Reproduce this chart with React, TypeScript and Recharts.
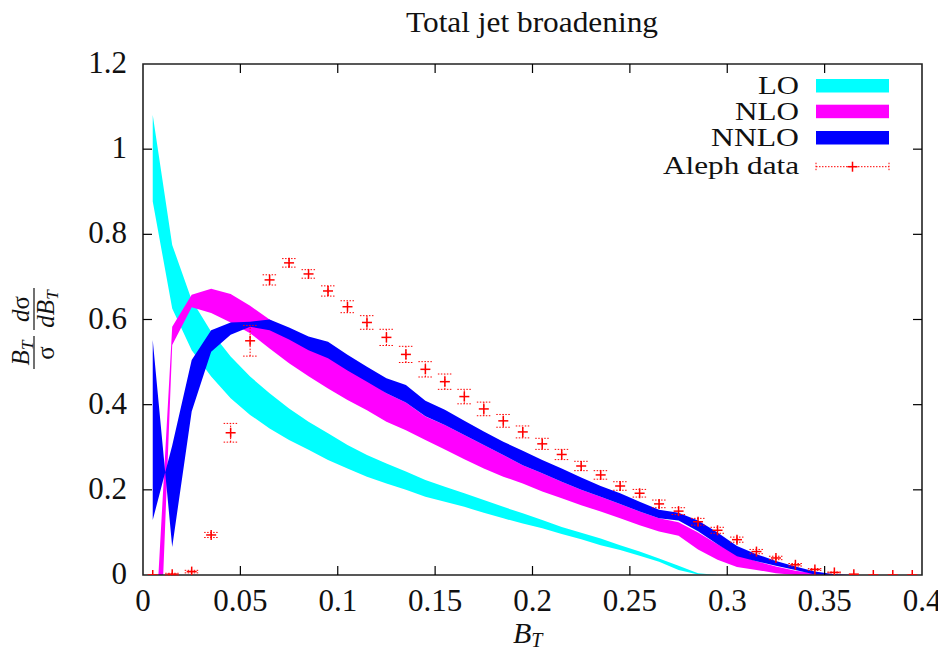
import { ComposedChart, Area, Scatter, ErrorBar, XAxis, YAxis, ReferenceArea } from 'recharts';

// bin centres of B_T
const binCenters = [
  0.005, 0.015, 0.025, 0.035, 0.045, 0.055, 0.065, 0.075, 0.085, 0.095,
  0.105, 0.115, 0.125, 0.135, 0.145, 0.155, 0.165, 0.175, 0.185, 0.195,
  0.205, 0.215, 0.225, 0.235, 0.245, 0.255, 0.265, 0.275, 0.285, 0.295,
  0.305, 0.315, 0.325, 0.335, 0.345, 0.355, 0.365, 0.375, 0.385, 0.395,
];

const loLow = [
  0.877, 0.626, 0.528, 0.466, 0.415, 0.376, 0.344, 0.317, 0.294, 0.27,
  0.25, 0.231, 0.215, 0.2, 0.184, 0.172, 0.16, 0.146, 0.133, 0.121,
  0.11, 0.096, 0.084, 0.07, 0.059, 0.045, 0.031, 0.012, 0.001, 0,
  0, 0, 0, 0, 0, 0, 0, 0, 0, 0,
];
const loHigh = [
  1.08, 0.775, 0.646, 0.571, 0.513, 0.466, 0.427, 0.391, 0.36, 0.333,
  0.305, 0.282, 0.262, 0.243, 0.223, 0.207, 0.192, 0.176, 0.16, 0.145,
  0.129, 0.113, 0.099, 0.086, 0.07, 0.055, 0.039, 0.022, 0.004, 0,
  0, 0, 0, 0, 0, 0, 0, 0, 0, 0,
];

const nloLow = [
  -0.63, 0.54, 0.629, 0.615, 0.593, 0.568, 0.532, 0.497, 0.467, 0.438,
  0.411, 0.387, 0.36, 0.34, 0.317, 0.295, 0.272, 0.25, 0.231, 0.215,
  0.196, 0.18, 0.164, 0.149, 0.133, 0.117, 0.102, 0.092, 0.06, 0.036,
  0.019, 0.012, 0.004, 0, 0, 0, 0, 0, 0, 0,
];
const nloHigh = [
  -0.24, 0.583, 0.658, 0.672, 0.66, 0.632, 0.6, 0.571, 0.542, 0.513,
  0.485, 0.458, 0.427, 0.405, 0.372, 0.352, 0.329, 0.305, 0.282, 0.258,
  0.239, 0.219, 0.2, 0.184, 0.167, 0.149, 0.133, 0.124, 0.1, 0.072,
  0.048, 0.032, 0.02, 0.01, 0.004, 0.001, 0, 0, 0, 0,
];

const nnloLow = [
  0.552, 0.066, 0.384, 0.524, 0.564, 0.583, 0.575, 0.553, 0.528, 0.509,
  0.48, 0.454, 0.427, 0.405, 0.373, 0.352, 0.329, 0.305, 0.282, 0.258,
  0.239, 0.219, 0.2, 0.184, 0.167, 0.149, 0.133, 0.128, 0.103, 0.072,
  0.044, 0.032, 0.022, 0.012, 0.001, 0, 0, 0, 0, 0,
];
const nnloHigh = [
  0.129, 0.304, 0.505, 0.575, 0.593, 0.595, 0.6, 0.581, 0.56, 0.548,
  0.517, 0.489, 0.462, 0.446, 0.409, 0.388, 0.362, 0.337, 0.313, 0.292,
  0.27, 0.25, 0.229, 0.209, 0.192, 0.172, 0.153, 0.146, 0.128, 0.1,
  0.068, 0.049, 0.033, 0.02, 0.008, 0.002, 0, 0, 0, 0,
];

// Aleph measurement and its error
const alephValues = [
  0, 0.002, 0.008, 0.094, 0.334, 0.55, 0.693, 0.733, 0.707, 0.667,
  0.63, 0.593, 0.558, 0.518, 0.483, 0.454, 0.419, 0.39, 0.362, 0.336,
  0.308, 0.283, 0.256, 0.235, 0.209, 0.192, 0.167, 0.15, 0.125, 0.105,
  0.083, 0.055, 0.04, 0.024, 0.013, 0.006, 0.002, 0, 0, 0,
];
const alephErrors = [
  0, 0.002, 0.003, 0.006, 0.022, 0.036, 0.012, 0.01, 0.01, 0.012,
  0.014, 0.016, 0.019, 0.019, 0.018, 0.018, 0.017, 0.016, 0.015, 0.014,
  0.013, 0.012, 0.011, 0.01, 0.01, 0.009, 0.009, 0.008, 0.008, 0.007,
  0.006, 0.005, 0.004, 0.003, 0.002, 0.001, 0, 0, 0, 0,
];

const xTicks = [0, 0.05, 0.1, 0.15, 0.2, 0.25, 0.3, 0.35, 0.4];
const xTickLabels = ['0', '0.05', '0.1', '0.15', '0.2', '0.25', '0.3', '0.35', '0.4'];
const yTicks = [0, 0.2, 0.4, 0.6, 0.8, 1, 1.2];
const yTickLabels = ['0', '0.2', '0.4', '0.6', '0.8', '1', '1.2'];

const seriesNames = ['LO', 'NLO', 'NNLO', 'Aleph data'];
const bandColors = ['#00ffff', '#ff00ff', '#0000ff'];

const rows = binCenters.map((x, i) => ({
  x,
  lo: [loLow[i], loHigh[i]],
  nlo: [nloLow[i], nloHigh[i]],
  nnlo: [nnloLow[i], nnloHigh[i]],
  aleph: alephValues[i],
  err: alephErrors[i],
}));

const W = 938;
const H = 640;
const PLOT_LEFT = 135;
const PLOT_TOP = 56;
const PLOT_RIGHT = 914;
const PLOT_BOTTOM = 567;
const FONT = 'Liberation Serif, serif';

const XTick = (props: any) => {
  const { x, payload } = props;
  const i = xTicks.indexOf(payload.value);
  const edge = i === 0 || i === xTicks.length - 1;
  return (
    <g>
      {!edge && <line x1={x} y1={PLOT_BOTTOM} x2={x} y2={PLOT_BOTTOM - 9} stroke="#000" strokeWidth={1.2} />}
      {!edge && <line x1={x} y1={PLOT_TOP} x2={x} y2={PLOT_TOP + 9} stroke="#000" strokeWidth={1.2} />}
      <text x={x} y={PLOT_BOTTOM + 36} textAnchor="middle" style={{ fontFamily: FONT }} fontSize={31} fill="#111">
        {xTickLabels[i]}
      </text>
    </g>
  );
};

const YTick = (props: any) => {
  const { y, payload } = props;
  const i = yTicks.indexOf(payload.value);
  const edge = i === 0 || i === yTicks.length - 1;
  return (
    <g>
      {!edge && <line x1={PLOT_LEFT} y1={y} x2={PLOT_LEFT + 9} y2={y} stroke="#000" strokeWidth={1.2} />}
      {!edge && <line x1={PLOT_RIGHT} y1={y} x2={PLOT_RIGHT - 9} y2={y} stroke="#000" strokeWidth={1.2} />}
      <text x={PLOT_LEFT - 16} y={y + 9} textAnchor="end" style={{ fontFamily: FONT }} fontSize={31} fill="#111">
        {yTickLabels[i]}
      </text>
    </g>
  );
};

const Plus = (props: any) => {
  const { cx, cy } = props;
  if (cx == null || cy == null) return null;
  return (
    <g stroke="#ff0000" strokeWidth={1.5}>
      <line x1={cx - 5} y1={cy} x2={cx + 5} y2={cy} />
      <line x1={cx} y1={cy - 5} x2={cx} y2={cy + 5} />
    </g>
  );
};

function Overlay() {
  const rowsY = [86, 111.7, 138, 166];
  return (
    <svg width={W} height={H}
      style={{ position: 'absolute', left: 0, top: 0, pointerEvents: 'none', overflow: 'visible', fontFamily: FONT }}>
      <text x={524} y={24} textAnchor="middle" fontSize={29} fill="#111"
        textLength={252} lengthAdjust="spacingAndGlyphs">
        Total jet broadening
      </text>

      {seriesNames.map((name, i) => (
        <text key={name} x={791} y={rowsY[i]} textAnchor="end" fontSize={26} fill="#111"
          textLength={[41, 64, 88, 136][i]} lengthAdjust="spacingAndGlyphs">
          {name}
        </text>
      ))}
      {bandColors.map((c, i) => (
        <rect key={c} x={808} y={rowsY[i] - 15} width={73} height={13.5} fill={c} />
      ))}
      <g stroke="#ff0000" strokeWidth={1}>
        <line x1={808} y1={158.7} x2={881} y2={158.7} strokeDasharray="1.5 1.5" />
        <line x1={808} y1={154.7} x2={808} y2={162.7} strokeDasharray="1.5 1.5" />
        <line x1={881} y1={154.7} x2={881} y2={162.7} strokeDasharray="1.5 1.5" />
        <line x1={839.5} y1={158.7} x2={849.5} y2={158.7} strokeWidth={1.5} />
        <line x1={844.5} y1={153.7} x2={844.5} y2={163.7} strokeWidth={1.5} />
      </g>

      <text x={505} y={635} fontSize={30} fontStyle="italic" fill="#111">
        B<tspan fontSize={20} dy={4}>T</tspan>
      </text>

      <g transform="translate(26,320) rotate(-90)" fill="#111">
        <line x1={-41} y1={0} x2={-8} y2={0} stroke="#111" strokeWidth={1.2} />
        <text x={-25} y={-5} textAnchor="middle" fontSize={25} fontStyle="italic">
          B<tspan fontSize={17} dy={4}>T</tspan>
        </text>
        <text x={-25} y={20} textAnchor="middle" fontSize={25}>σ</text>
        <line x1={-2} y1={0} x2={40} y2={0} stroke="#111" strokeWidth={1.2} />
        <text x={19} y={-5} textAnchor="middle" fontSize={25}>
          <tspan fontStyle="italic">d</tspan>σ
        </text>
        <text x={19} y={20} textAnchor="middle" fontSize={25} fontStyle="italic">
          dB<tspan fontSize={17} dy={4}>T</tspan>
        </text>
      </g>
    </svg>
  );
}

export default function App() {
  return (
    <div style={{ position: 'relative', width: W, height: H }}>
      <ComposedChart width={W} height={H} data={rows} margin={{ top: 56, right: 24, bottom: 33, left: 75 }}>
        <XAxis
          dataKey="x"
          type="number"
          domain={[0, 0.4]}
          ticks={xTicks}
          allowDataOverflow
          height={40}
          axisLine={false}
          tickLine={false}
          tick={<XTick />}
          interval={0}
        />
        <YAxis
          type="number"
          domain={[0, 1.2]}
          ticks={yTicks}
          allowDataOverflow
          width={60}
          axisLine={false}
          tickLine={false}
          tick={<YTick />}
          interval={0}
        />
        <Area dataKey="lo" type="linear" stroke="none" fill={bandColors[0]} fillOpacity={1} isAnimationActive={false} />
        <Area dataKey="nlo" type="linear" stroke="none" fill={bandColors[1]} fillOpacity={1} isAnimationActive={false} />
        <Area dataKey="nnlo" type="linear" stroke="none" fill={bandColors[2]} fillOpacity={1} isAnimationActive={false} />
        <Scatter dataKey="aleph" shape={<Plus />} isAnimationActive={false}>
          <ErrorBar dataKey="err" direction="y" width={7} stroke="#ff0000" strokeWidth={1} strokeDasharray="1.5 1.5" />
        </Scatter>
        <ReferenceArea x1={0} x2={0.4} y1={0} y2={1.2} fill="none" stroke="#222" strokeWidth={1.6} />
      </ComposedChart>
      <Overlay />
    </div>
  );
}
